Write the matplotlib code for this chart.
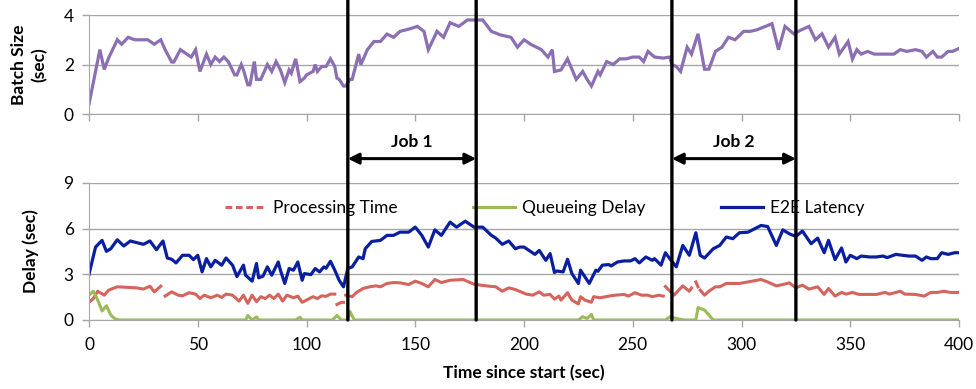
import numpy as np
import matplotlib
matplotlib.use("Agg")
import matplotlib.pyplot as plt
from matplotlib.lines import Line2D
from matplotlib.patches import ConnectionPatch
from matplotlib.transforms import blended_transform_factory

plt.rcParams["font.family"] = ["Lato", "DejaVu Sans"]

nan = np.nan

# batch size over time
t_batch = [0, 5, 7, 9, 13, 15, 18, 21, 27, 30, 33, 35, 38, 39, 42, 47, 49, 51, 54, 56,
           58, 60, 62, 64, 67, 68, 70, 71, 73, 74, 76, 77, 79, 82, 84, 86, 88, 90, 92, 93,
           95, 97, 99, 100, 103, 104, 105, 107, 109, 111, 113, 114, 115, 117, 118, 120, 121, 124, 125, 128,
           131, 134, 137, 140, 143, 147, 151, 154, 156, 160, 163, 166, 170, 174, 177, 181, 185, 189, 194, 197,
           200, 203, 208, 211, 213, 214, 217, 220, 224, 227, 229, 231, 234, 235, 238, 241, 244, 247, 250, 253,
           255, 257, 260, 264, 267, 268, 270, 272, 275, 277, 280, 283, 285, 288, 291, 294, 297, 301, 304, 307,
           311, 314, 317, 320, 324, 327, 331, 334, 337, 340, 343, 345, 349, 351, 353, 355, 358, 361, 365, 370,
           373, 376, 380, 383, 385, 388, 390, 392, 395, 397, 400]
batch = [0.4, 2.6, 1.8, 2.26, 3.0, 2.82, 3.1, 3.0, 3.0, 2.82, 3.0, 2.6, 2.1, 2.1, 2.6, 2.3, 2.6, 1.72, 2.42, 2.0,
         2.3, 2.12, 2.3, 2.12, 1.58, 1.58, 2.0, 1.78, 1.18, 1.18, 2.12, 1.4, 1.4, 2.0, 1.72, 2.12, 1.78, 1.27, 1.78, 1.65,
         2.23, 1.31, 1.45, 1.58, 1.72, 2.0, 1.72, 1.92, 1.92, 2.23, 1.92, 1.45, 1.4, 1.13, 1.13, 1.4, 1.4, 2.42, 2.0, 2.6,
         2.93, 2.93, 3.23, 3.1, 3.34, 3.43, 3.54, 3.34, 2.6, 3.34, 3.1, 3.69, 3.54, 3.8, 3.8, 3.8, 3.34, 3.2, 3.1, 2.7,
         3.0, 2.82, 2.6, 2.3, 2.6, 1.72, 1.78, 2.23, 1.4, 1.72, 1.4, 1.13, 1.72, 1.58, 2.12, 2.0, 2.23, 2.23, 2.3, 2.3,
         2.12, 2.53, 2.3, 2.26, 2.3, 2.0, 1.92, 1.72, 2.7, 2.42, 3.24, 1.81, 1.81, 2.53, 2.7, 3.1, 3.0, 3.34, 3.34, 3.4,
         3.54, 3.65, 2.6, 3.54, 3.24, 3.38, 3.54, 3.0, 3.24, 2.7, 3.1, 2.42, 2.93, 2.22, 2.6, 2.42, 2.53, 2.42, 2.42, 2.42,
         2.6, 2.53, 2.6, 2.53, 2.3, 2.53, 2.3, 2.3, 2.53, 2.53, 2.65]

# processing time (nan = missing samples)
t_proc = [0, 2, 4, 7, 9, 13, 18, 22, 25, 28, 30, 33, 34, 35, 38, 41, 43, 46, 49, 51,
          53, 56, 59, 61, 63, 66, 69, 71, 73, 75, 77, 79, 81, 83, 85, 87, 89, 91, 94, 96,
          98, 100, 103, 105, 107, 109, 111, 113, 113.5, 114, 116, 117, 117.5, 118, 121, 123, 126, 129, 132, 134,
          137, 140, 143, 147, 150, 153, 156, 159, 162, 166, 172, 177, 180, 184, 187, 190, 193, 196, 201,
          204, 207, 209, 212, 214, 216, 217, 220, 222, 225, 226, 228, 231, 232, 235, 239, 242, 246, 248, 251,
          254, 257, 259, 262, 264, 264.5, 265, 269, 270, 273, 276, 277, 278, 279, 280, 280.5, 281, 283, 285, 288,
          290, 293, 299, 303, 309, 312, 316, 319, 322, 325, 328, 331, 335, 338, 340, 343, 346, 348, 351, 354,
          362, 366, 368, 373, 375, 380, 384, 387, 390, 393, 396, 398, 400]
proc = [1.16, 1.41, 1.89, 1.63, 1.96, 2.18, 2.14, 2.11, 2.03, 2.22, 1.85, 2.22, nan, 1.57, 1.85, 1.63, 1.59, 1.79, 1.7, 1.41,
        1.63, 1.46, 1.63, 1.48, 1.7, 1.63, 1.24, 1.63, 1.09, 1.63, 1.2, 1.53, 1.41, 1.63, 1.41, 1.7, 1.24, 1.63, 1.46, 1.57,
        1.16, 1.31, 1.53, 1.41, 1.59, 1.55, 1.7, 1.7, nan, 1.02, 1.16, 1.16, nan, 1.63, 1.53, 1.81, 2.07, 2.18, 2.24, 2.18,
        2.4, 2.46, 2.44, 2.33, 2.55, 2.4, 2.18, 2.66, 2.46, 2.61, 2.66, 2.35, 2.29, 2.22, 2.18, 1.89, 2.11, 2.0, 1.7,
        1.63, 1.85, 1.63, 1.68, 1.37, 1.57, 1.31, 1.79, 1.31, 1.05, 1.53, 1.31, 1.16, 1.53, 1.46, 1.57, 1.63, 1.68, 1.57, 1.79,
        1.63, 1.63, 1.53, 1.63, 1.57, nan, 2.2, 1.63, 1.79, 2.24, 1.89, 2.1, nan, 2.5, 2.18, nan, 1.96, 1.63, 1.89, 2.18,
        2.18, 2.4, 2.4, 2.5, 2.66, 2.5, 2.24, 2.33, 2.44, 2.11, 2.29, 2.03, 2.18, 1.68, 2.07, 1.57, 1.81, 1.7, 1.81, 1.68,
        1.68, 1.81, 1.7, 1.89, 1.7, 1.68, 1.57, 1.81, 1.81, 1.89, 1.81, 1.81, 1.81]

# queueing delay
t_queue = [0, 2, 4, 6, 8, 10, 12, 14, 72, 73, 75, 77, 78, 95, 97, 98, 112, 114, 116, 119,
           120, 122, 225, 227, 229, 231, 232, 265, 267, 271, 274, 279, 280, 283, 285, 287, 400]
queue = [1.63, 1.89, 1.31, 0.59, 0.94, 0.33, 0.07, 0, 0, 0.3, 0, 0.2, 0, 0, 0.18, 0, 0, 0.3, 0, 0,
         0.55, 0, 0, 0.22, 0.1, 0.37, 0, 0, 0.2, 0.07, 0, 0, 0.81, 0.65, 0.33, 0, 0]

# end-to-end latency
t_e2e = [0, 3, 6, 8, 10, 13, 16, 19, 22, 25, 28, 31, 34, 36, 38, 40, 43, 46, 48, 50,
         52, 54, 56, 58, 61, 63, 66, 68, 71, 72, 75, 77, 78, 80, 82, 84, 87, 88, 90, 92,
         94, 96, 98, 99, 102, 104, 106, 108, 109, 111, 113, 115, 117, 119, 121, 124, 126, 127, 130, 134,
         137, 140, 143, 147, 150, 153, 156, 159, 162, 166, 169, 173, 177, 181, 185, 187, 190, 193, 196, 198,
         200, 205, 207, 210, 212, 214, 215, 218, 220, 222, 225, 226, 228, 230, 233, 234, 236, 239, 240, 243,
         246, 249, 251, 253, 256, 259, 260, 263, 265, 267, 270, 273, 276, 279, 281, 283, 287, 290, 293, 296,
         299, 303, 306, 309, 312, 316, 319, 322, 325, 328, 332, 335, 338, 340, 343, 346, 348, 350, 353, 355,
         359, 362, 365, 367, 371, 374, 377, 380, 383, 385, 387, 390, 392, 395, 398, 400]
e2e = [3.0, 4.79, 5.23, 4.51, 4.68, 5.27, 4.86, 5.19, 5.08, 4.97, 5.19, 4.62, 5.19, 4.07, 3.99, 3.75, 4.25, 4.25, 3.97, 4.25,
       3.16, 4.03, 3.49, 3.92, 3.6, 4.07, 3.6, 2.85, 3.6, 2.94, 2.55, 3.71, 2.77, 2.88, 3.49, 2.94, 3.81, 3.27, 2.4, 3.38,
       3.27, 3.81, 2.61, 3.05, 2.98, 3.38, 3.16, 3.49, 3.4, 3.86, 3.27, 2.61, 2.18, 3.38, 3.49, 4.14, 4.03, 4.68, 5.16, 5.23,
       5.56, 5.56, 5.77, 5.77, 6.1, 5.56, 4.79, 5.92, 5.56, 6.43, 6.1, 6.49, 6.1, 6.1, 5.56, 5.38, 4.97, 5.19, 4.68, 4.79,
       4.79, 4.31, 4.57, 3.92, 4.36, 3.12, 3.22, 3.16, 3.99, 3.05, 2.4, 3.27, 2.83, 2.4, 3.27, 3.2, 3.6, 3.64, 3.55, 3.81,
       3.88, 3.88, 4.03, 3.75, 4.14, 3.92, 4.03, 3.6, 4.42, 4.03, 3.49, 4.9, 4.25, 5.73, 4.25, 4.07, 4.68, 4.9, 5.45, 5.34,
       5.73, 5.77, 5.99, 6.21, 6.14, 4.9, 5.92, 5.66, 5.49, 5.84, 5.01, 5.38, 4.42, 5.23, 3.97, 4.73, 3.81, 4.25, 4.03, 4.2,
       4.14, 4.14, 4.2, 4.1, 4.31, 4.25, 4.2, 4.2, 3.92, 4.14, 4.03, 4.03, 4.42, 4.31, 4.42, 4.42]

# job start / end times
job_names = ["Job 1", "Job 2"]
job_start = [119, 268]
job_end = [178, 325]

c_batch = "#8C6FB3"
c_proc = "#D4645C"
c_queue = "#9BBB59"
c_e2e = "#0A1FA0"
grid_c = "#A6A6A6"

fig = plt.figure(figsize=(9.76, 3.89), dpi=100)
ax1 = fig.add_axes([0.0912, 0.7069, 0.8914, 0.2545])
ax2 = fig.add_axes([0.0912, 0.1774, 0.8914, 0.3522])

ax1.plot(t_batch, batch, color=c_batch, lw=2.3, solid_joinstyle="miter")
ax2.plot(t_proc, proc, color=c_proc, lw=2.2)
ax2.plot(t_queue, queue, color=c_queue, lw=2.2)
ax2.plot(t_e2e, e2e, color=c_e2e, lw=2.3)

for ax, top, step in [(ax1, 4, 2), (ax2, 9, 3)]:
    ax.set_xlim(0, 400)
    ax.set_ylim(0, top)
    ax.set_yticks(np.arange(0, top + 1, step))
    ax.set_xticks(np.arange(0, 401, 50))
    ax.yaxis.grid(True, color=grid_c, lw=1)
    ax.set_axisbelow(True)
    for s in ["top", "right"]:
        ax.spines[s].set_visible(False)
    for s in ["left", "bottom"]:
        ax.spines[s].set_color(grid_c)
    ax.tick_params(axis="both", colors=grid_c, labelcolor="black", labelsize=12.5,
                   length=5, width=1)
    ax.tick_params(axis="y", pad=6)

ax1.tick_params(axis="x", labelbottom=False)
ax2.tick_params(axis="x", pad=7)

ax1.set_ylabel("Batch Size\n(sec)", fontsize=12.5, fontweight="bold", linespacing=1.3)
ax1.yaxis.set_label_coords(-0.048, 0.5)
ax2.set_ylabel("Delay (sec)", fontsize=12.5, fontweight="bold")
ax2.yaxis.set_label_coords(-0.057, 0.5)
ax2.set_xlabel("Time since start (sec)", fontsize=12.5, fontweight="bold")
ax2.xaxis.set_label_coords(0.5, -0.33)

handles = [Line2D([], [], color=c_proc, lw=2.2, dashes=(2.2, 1.2)),
           Line2D([], [], color=c_queue, lw=2.2),
           Line2D([], [], color=c_e2e, lw=2.3)]
labels = ["Processing Time", "Queueing Delay", "E2E Latency"]
ax2.legend(handles, labels, loc="lower left", bbox_to_anchor=(0.156, 0.76, 0.735, 0.16),
           mode="expand", ncol=3, frameon=False, fontsize=12.5, handlelength=2.4,
           handletextpad=0.4, borderaxespad=0, borderpad=0)

# job boundaries run from the delay axis baseline to the top of the figure
to_fig = blended_transform_factory(ax2.transData, fig.transFigure)
for x in job_start + job_end:
    con = ConnectionPatch(xyA=(x, 0), coordsA=ax2.transData, xyB=(x, 1), coordsB=to_fig,
                          color="black", lw=2.4)
    fig.add_artist(con)

for name, a, b in zip(job_names, job_start, job_end):
    ax2.annotate("", xy=(b, 10.6), xytext=(a, 10.6), annotation_clip=False,
                 arrowprops=dict(arrowstyle="<|-|>", color="black", lw=2.2,
                                 mutation_scale=16, shrinkA=0, shrinkB=0))
    ax2.text((a + b) / 2, 11.7, name, ha="center", va="center", fontsize=12.5,
             fontweight="bold", clip_on=False)

fig.savefig("out.png", dpi=100)
